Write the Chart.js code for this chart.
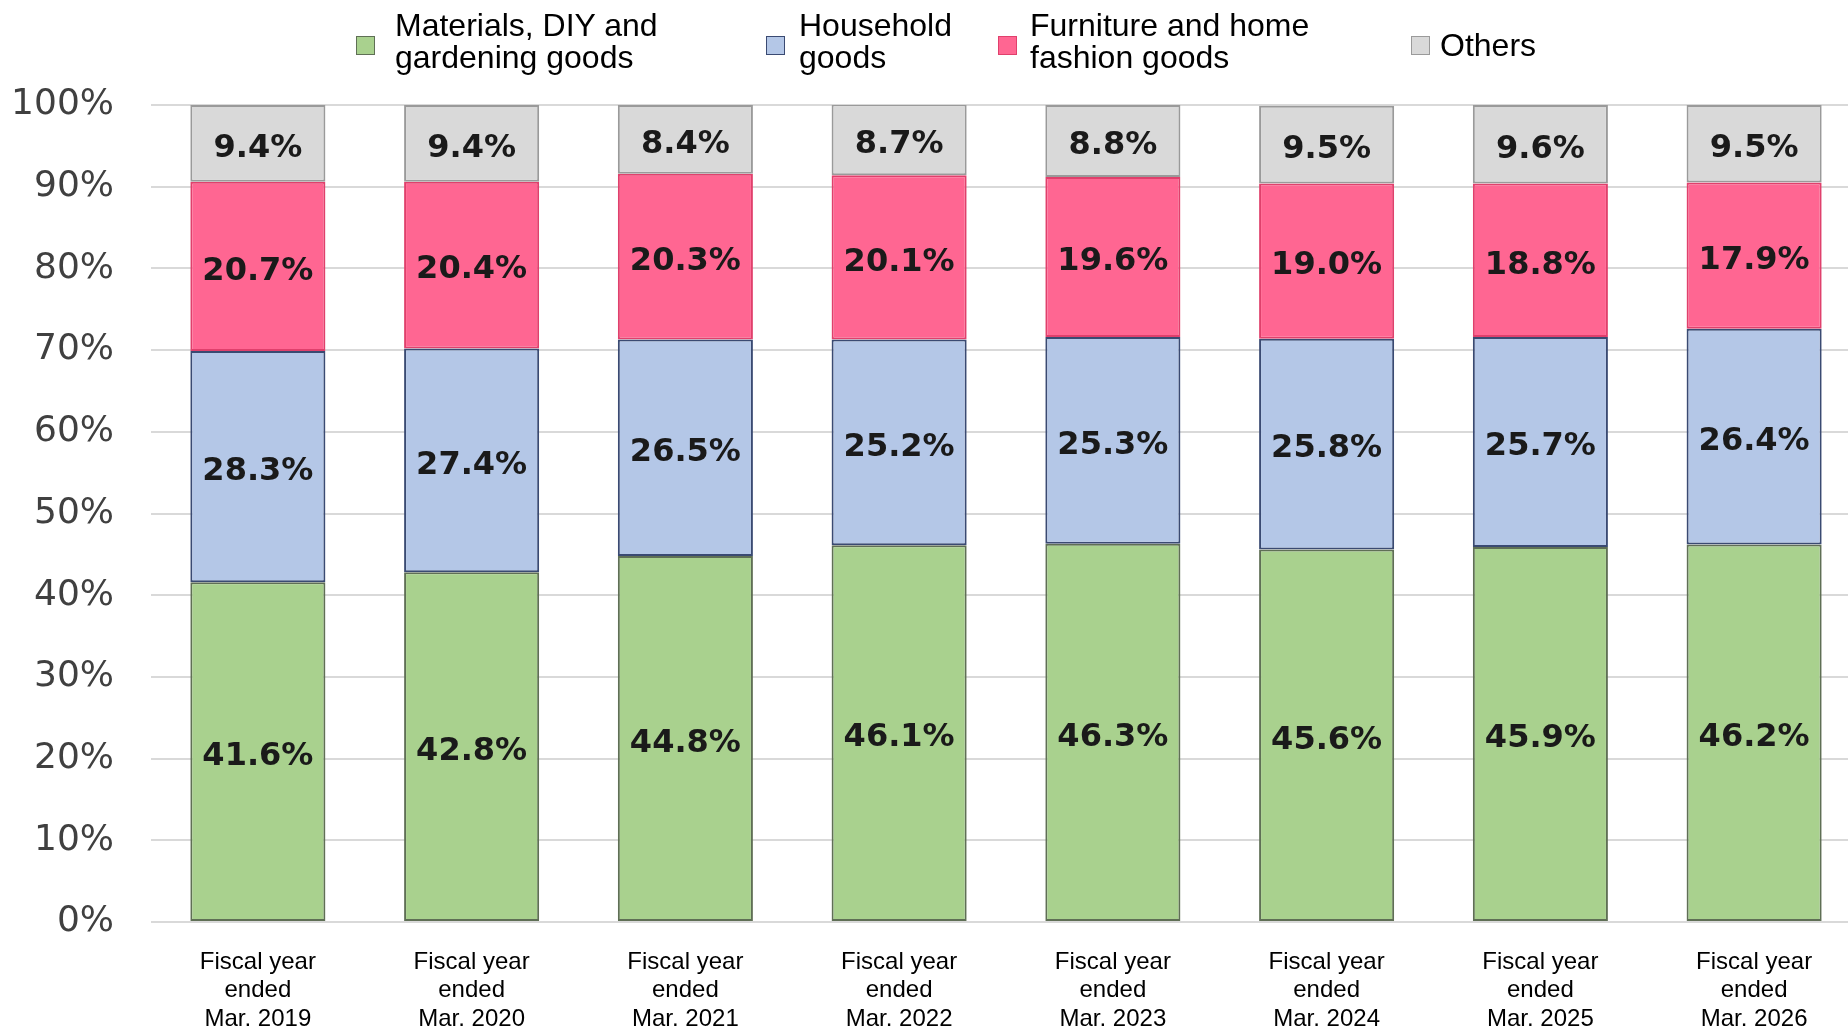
<!DOCTYPE html>
<html>
<head>
<meta charset="utf-8">
<script src="https://cdn.jsdelivr.net/npm/chart.js@4.4.1/dist/chart.umd.min.js"></script>
<style>
  html, body { margin: 0; padding: 0; background: #fff; overflow: hidden; }
  #wrap { position: relative; width: 1848px; height: 1028px; overflow: hidden; }
  #chart { position: absolute; left: 0; top: 0; }
  .lg-box { position: absolute; width: 17px; height: 17px; border: 1px solid; }
  .lg-text { position: absolute; font: 32px "Liberation Sans", Arial, sans-serif; line-height: 32px; color: #000; white-space: nowrap; }
</style>
</head>
<body>
<div id="wrap">
  <canvas id="chart" width="1861" height="1028"></canvas>
  <div id="legend"></div>
</div>
<script>
// fiscal years on the x axis
const categories = [
  ['Fiscal year', 'ended', 'Mar. 2019'],
  ['Fiscal year', 'ended', 'Mar. 2020'],
  ['Fiscal year', 'ended', 'Mar. 2021'],
  ['Fiscal year', 'ended', 'Mar. 2022'],
  ['Fiscal year', 'ended', 'Mar. 2023'],
  ['Fiscal year', 'ended', 'Mar. 2024'],
  ['Fiscal year', 'ended', 'Mar. 2025'],
  ['Fiscal year', 'ended', 'Mar. 2026']
];

// share of sales (%)
const materials = [41.6, 42.8, 44.8, 46.1, 46.3, 45.6, 45.9, 46.2];
const household = [28.3, 27.4, 26.5, 25.2, 25.3, 25.8, 25.7, 26.4];
const furniture = [20.7, 20.4, 20.3, 20.1, 19.6, 19.0, 18.8, 17.9];
const others    = [9.4, 9.4, 8.4, 8.7, 8.8, 9.5, 9.6, 9.5];

const seriesNames = [
  ['Materials, DIY and', 'gardening goods'],
  ['Household', 'goods'],
  ['Furniture and home', 'fashion goods'],
  ['Others']
];
const yTicks = [0, 10, 20, 30, 40, 50, 60, 70, 80, 90, 100];

const fills   = ['#a9d18e', '#b4c7e7', '#ff6692', '#d9d9d9'];
const borders = ['#5f6f55', '#3a4a72', '#e0406c', '#9a9a9a'];

// legend placement (px) - drawn as html above the canvas
const legendBoxX  = [356, 766, 998, 1411];
const legendTextX = [395, 799, 1030, 1440];

const legendEl = document.getElementById('legend');
seriesNames.forEach((name, i) => {
  const box = document.createElement('div');
  box.className = 'lg-box';
  box.style.left = legendBoxX[i] + 'px';
  box.style.top = '36px';
  box.style.background = fills[i];
  box.style.borderColor = borders[i];
  legendEl.appendChild(box);

  const txt = document.createElement('div');
  txt.className = 'lg-text';
  txt.style.left = legendTextX[i] + 'px';
  txt.style.top = (name.length > 1 ? 9 : 29) + 'px';
  txt.innerHTML = name.join('<br>');
  legendEl.appendChild(txt);
});

// value labels in the middle of each segment
const segmentLabels = {
  id: 'segmentLabels',
  afterDatasetsDraw(chart) {
    const ctx = chart.ctx;
    ctx.save();
    ctx.font = 'bold 32px "DejaVu Sans", Verdana, sans-serif';
    ctx.fillStyle = '#1a1a1a';
    ctx.textAlign = 'center';
    ctx.textBaseline = 'middle';
    chart.data.datasets.forEach((ds, di) => {
      chart.getDatasetMeta(di).data.forEach((bar, i) => {
        const v = ds.data[i];
        const mid = (bar.y + bar.base) / 2;
        ctx.fillText(v.toFixed(1) + '%', bar.x, mid + 5);
      });
    });
    ctx.restore();
  }
};

const seriesData = [materials, household, furniture, others];

new Chart(document.getElementById('chart'), {
  type: 'bar',
  data: {
    labels: categories,
    datasets: seriesData.map((d, i) => ({
      label: seriesNames[i].join(' '),
      data: d,
      backgroundColor: fills[i],
      borderColor: borders[i],
      borderWidth: 2,
      borderSkipped: false,
      barPercentage: 0.632,
      categoryPercentage: 1.0
    }))
  },
  options: {
    responsive: false,
    animation: false,
    layout: { padding: { top: 105, left: 0, right: 0, bottom: 0 } },
    plugins: {
      legend: { display: false },
      tooltip: { enabled: false }
    },
    scales: {
      x: {
        stacked: true,
        grid: { display: false, drawTicks: false },
        border: { display: false },
        ticks: {
          color: '#000',
          padding: 26,
          maxRotation: 0,
          autoSkip: false,
          font: { family: '"Liberation Sans", Arial, sans-serif', size: 24, lineHeight: 1.19 }
        },
        afterFit(scale) { scale.height = 106; }
      },
      y: {
        stacked: true,
        min: 0,
        max: 100,
        afterBuildTicks(scale) { scale.ticks = yTicks.map(v => ({ value: v })); },
        grid: { color: '#d9d9d9', lineWidth: 2, drawTicks: false },
        border: { display: false },
        ticks: {
          color: '#404040',
          padding: 37,
          font: { family: '"DejaVu Sans", Verdana, sans-serif', size: 36 },
          callback: v => v + '%'
        },
        afterFit(scale) { scale.width = 151; }
      }
    }
  },
  plugins: [segmentLabels]
});
</script>
</body>
</html>
